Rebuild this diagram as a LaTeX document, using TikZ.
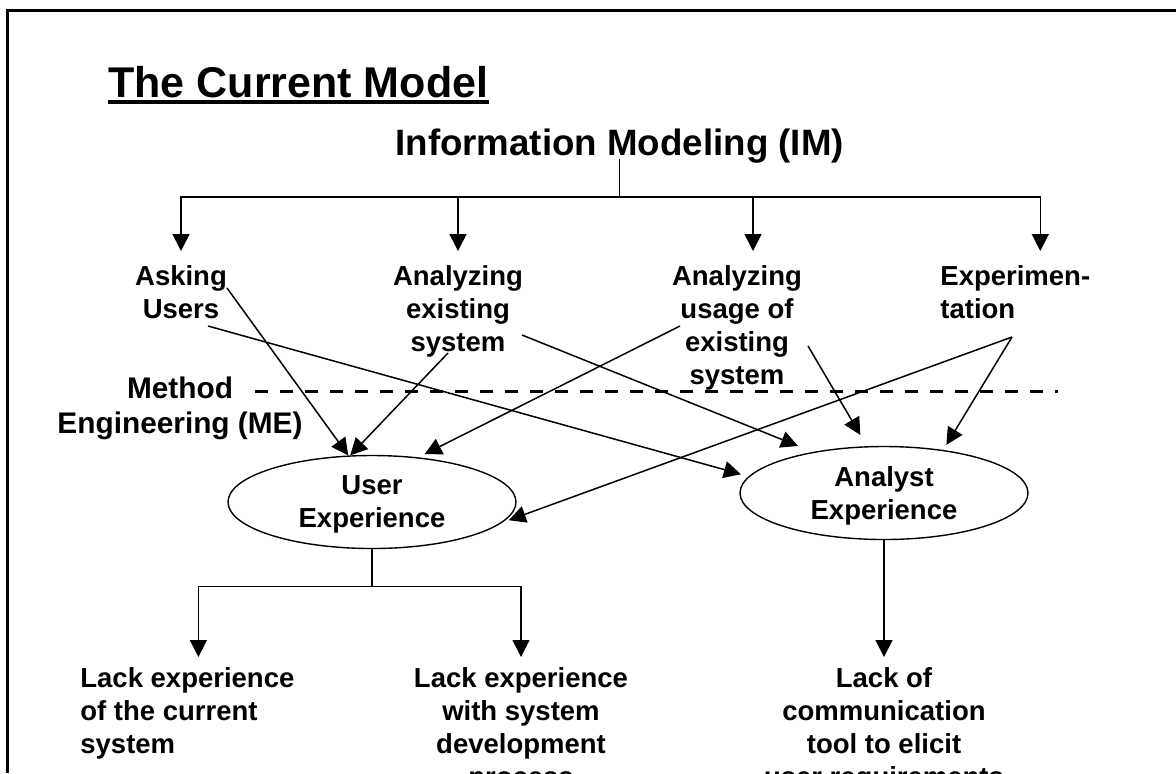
\documentclass[tikz,border=0pt]{standalone}
\usepackage{fontspec}
\setmainfont{Liberation Sans}
\usetikzlibrary{arrows.meta,shapes.geometric}

\begin{document}
\begin{tikzpicture}[x=0.5pt,y=-0.5pt,
  txt/.style={font=\fontsize{13.75}{16.5}\selectfont\bfseries,inner xsep=0pt,inner ysep=7pt,align=center,anchor=north},
  oval/.style={ellipse,draw,line width=0.7pt,minimum width=144pt,minimum height=46.5pt,inner sep=0pt,text depth=0pt,align=center,font=\fontsize{13.75}{16.5}\selectfont\bfseries},
  arr/.style={-{Triangle[length=8.5pt,width=8.5pt]},line width=0.75pt},
  link/.style={line width=0.75pt}]
  \useasboundingbox (0,0) rectangle (1176,773);
  \clip (0,0) rectangle (1176,773);
  % slide frame
  \draw[line width=1.5pt] (7,773) -- (7,10) -- (1176,10);
  % headings
  \node[anchor=base west,inner sep=0pt,font=\fontsize{21.5}{26}\selectfont\bfseries] (title) at (108,97) {The Current Model};
  \draw[line width=2pt] ([yshift=-2.65pt]title.base west) -- ([yshift=-2.65pt]title.base east);
  \node[anchor=base west,inner sep=0pt,font=\fontsize{18.35}{22}\selectfont\bfseries] (im) at (395,155) {Information Modeling (IM)};
  % IM techniques
  \node[txt] (ask) at (181,251) {Asking\\Users};
  \node[txt] (exist) at (458,251) {Analyzing\\existing\\system};
  \node[txt] (usage) at (737,251) {Analyzing\\usage of\\existing\\system};
  \node[txt,anchor=north west,align=left] (exper) at (940,251) {Experimen-\\tation};
  \draw[link] ([yshift=-2pt]im.base) -- ++(0,38) coordinate (fork);
  \draw[arr] (fork) -| (ask.north);
  \draw[arr] (fork) -| (exist.north);
  \draw[arr] (fork) -| ([xshift=8pt]usage.north);
  \draw[arr] (fork) -| ([xshift=12.5pt]exper.north);
  % ME border
  \node[txt,inner ysep=0pt,font=\fontsize{14.9}{17.5}\selectfont\bfseries] (me) at (180,376) {Method\\Engineering (ME)};
  \draw[line width=1.5pt,dash pattern=on 6.5pt off 6pt] (255,391) -- (1058,391);
  % experience
  \node[oval] (uexp) at (372,502) {User\\Experience};
  \node[oval] (aexp) at (884,493) {Analyst\\Experience};
  \coordinate (ask-a) at (227,288);
  \coordinate (ask-b) at (208,326);
  \coordinate (exist-a) at (448,353);
  \coordinate (exist-b) at (522,335);
  \coordinate (usage-a) at (680,326);
  \coordinate (usage-b) at (808,346);
  \coordinate (exper-a) at (1012,337);
  \draw[arr] (ask-a) -- (uexp.117);
  \draw[arr,shorten >=4pt] (ask-b) -- (aexp.173);
  \draw[arr] (exist-a) -- (uexp.115);
  \draw[arr,shorten >=8pt] (exist-b) -- (aexp.150);
  \draw[arr,shorten >=3.5pt] (usage-a) -- (uexp.44);
  \draw[arr,shorten >=6.5pt] (usage-b) -- (aexp.110);
  \draw[arr,shorten >=3.5pt] (exper-a) -- (uexp.-9);
  \draw[arr,shorten >=3pt] (exper-a) -- (aexp.36);
  % consequences
  \node[txt,inner ysep=5pt,anchor=north west,align=left] (lack1) at (80,657) {Lack experience\\of the current\\system};
  \node[txt,inner ysep=5pt] (lack2) at (521,657) {Lack experience\\with system\\development\\process};
  \node[txt,inner ysep=5pt] (lack3) at (884,657) {Lack of\\communication\\tool to elicit\\user requirements};
  \draw[link] (uexp.south) -- ++(0,37.5) coordinate (ufork);
  \draw[arr] (ufork) -| ([xshift=5.5pt]lack1.north);
  \draw[arr] (ufork) -| (lack2.north);
  \draw[arr] (aexp.south) -- (lack3.north);
\end{tikzpicture}
\end{document}
